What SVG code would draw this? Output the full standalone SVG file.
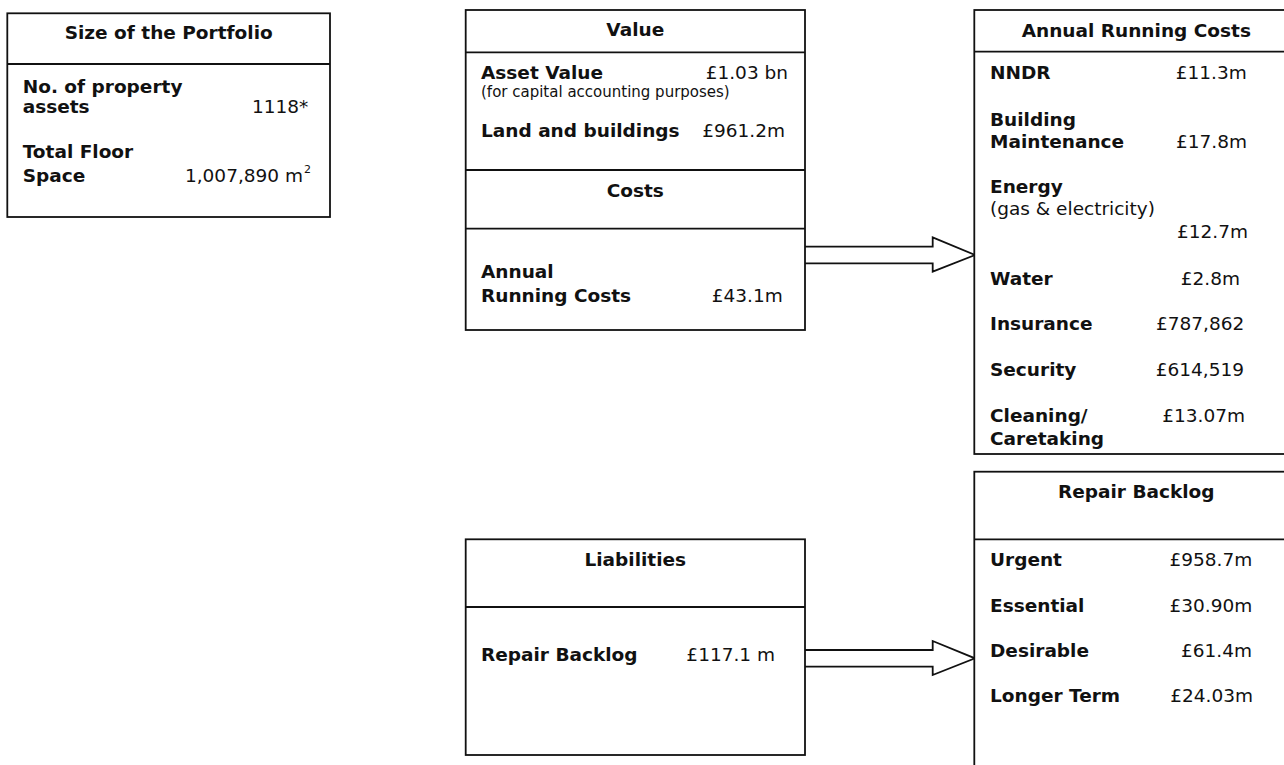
<svg xmlns="http://www.w3.org/2000/svg" width="1284" height="765" viewBox="0 0 1284 765">
<style>
  .box { fill: #fff; stroke: #111; stroke-width: 1.8; }
  .div { stroke: #111; stroke-width: 1.8; }
  text { font-family: "DejaVu Sans", Verdana, sans-serif; font-size: 18.5px; fill: #111; }
  .b { font-weight: bold; }
  .c { text-anchor: middle; }
  .r { text-anchor: end; }
  .s { font-size: 15px; }
  .sup { font-size: 11px; }
  .arrow { fill: #fff; stroke: #111; stroke-width: 1.8; stroke-linejoin: miter; }
</style>
<rect width="1284" height="765" fill="#fff"/>

<g id="connectors">
  <path class="arrow" d="M805,246.7 H932.7 V237.3 L975,255 L932.7,271.7 V263.3 H805"/>
  <path class="arrow" d="M805,650 H932.7 V641 L975,658.3 L932.7,675 V666.7 H805"/>
</g>

<g id="size-portfolio">
  <rect class="box" x="7.3" y="13.3" width="322.7" height="203.7"/>
  <line class="div" x1="7.3" y1="64" x2="330" y2="64"/>
  <text class="b c" x="168.7" y="39">Size of the Portfolio</text>
  <text class="b" x="22.7" y="92.7">No. of property</text>
  <text class="b" x="22.7" y="113.3">assets</text>
  <text class="r" x="308.3" y="113.3">1118*</text>
  <text class="b" x="22.7" y="158.3">Total Floor</text>
  <text class="b" x="22.7" y="181.7">Space</text>
  <text class="r" x="303" y="181.7">1,007,890 m</text>
  <text class="sup" x="304" y="173">2</text>
</g>

<g id="value-costs">
  <rect class="box" x="465.7" y="10" width="339.3" height="320"/>
  <line class="div" x1="465.7" y1="52.3" x2="805" y2="52.3"/>
  <line class="div" x1="465.7" y1="170" x2="805" y2="170"/>
  <line class="div" x1="465.7" y1="228.7" x2="805" y2="228.7"/>
  <text class="b c" x="635.3" y="36">Value</text>
  <text class="b" x="481" y="79">Asset Value</text>
  <text class="r" x="788" y="79">£1.03 bn</text>
  <text class="s" x="481" y="97.3">(for capital accounting purposes)</text>
  <text class="b" x="481" y="137.3">Land and buildings</text>
  <text class="r" x="785" y="137.3">£961.2m</text>
  <text class="b c" x="635.3" y="196.7">Costs</text>
  <text class="b" x="481" y="278.3">Annual</text>
  <text class="b" x="481" y="301.7">Running Costs</text>
  <text class="r" x="782.7" y="301.7">£43.1m</text>
</g>

<g id="liabilities">
  <rect class="box" x="465.7" y="539.3" width="339.3" height="215.7"/>
  <line class="div" x1="465.7" y1="607" x2="805" y2="607"/>
  <text class="b c" x="635.3" y="565.7">Liabilities</text>
  <text class="b" x="481" y="660.7">Repair Backlog</text>
  <text class="r" x="775" y="660.7">£117.1 m</text>
</g>

<g id="annual-running-costs">
  <rect class="box" x="974.3" y="10" width="324" height="444"/>
  <line class="div" x1="974.3" y1="51.7" x2="1298.3" y2="51.7"/>
  <text class="b c" x="1136.3" y="36.7">Annual Running Costs</text>
  <text class="b" x="990" y="79">NNDR</text>
  <text class="r" x="1246.7" y="79">£11.3m</text>
  <text class="b" x="990" y="125.7">Building</text>
  <text class="b" x="990" y="147.7">Maintenance</text>
  <text class="r" x="1247" y="147.7">£17.8m</text>
  <text class="b" x="990" y="193.3">Energy</text>
  <text x="990" y="215">(gas &amp; electricity)</text>
  <text class="r" x="1248" y="238.3">£12.7m</text>
  <text class="b" x="990" y="285">Water</text>
  <text class="r" x="1240" y="285">£2.8m</text>
  <text class="b" x="990" y="330">Insurance</text>
  <text class="r" x="1244.3" y="330">£787,862</text>
  <text class="b" x="990" y="376">Security</text>
  <text class="r" x="1244" y="376">£614,519</text>
  <text class="b" x="990" y="421.7">Cleaning/</text>
  <text class="r" x="1245" y="421.7">£13.07m</text>
  <text class="b" x="990" y="445">Caretaking</text>
</g>

<g id="repair-backlog">
  <rect class="box" x="974.3" y="471.7" width="324" height="310"/>
  <line class="div" x1="974.3" y1="539.3" x2="1298.3" y2="539.3"/>
  <text class="b c" x="1136.3" y="498.3">Repair Backlog</text>
  <text class="b" x="990" y="565.7">Urgent</text>
  <text class="r" x="1252.3" y="565.7">£958.7m</text>
  <text class="b" x="990" y="611.7">Essential</text>
  <text class="r" x="1252.3" y="611.7">£30.90m</text>
  <text class="b" x="990" y="657.3">Desirable</text>
  <text class="r" x="1252" y="657.3">£61.4m</text>
  <text class="b" x="990" y="702.3">Longer Term</text>
  <text class="r" x="1253" y="702.3">£24.03m</text>
</g>
</svg>
